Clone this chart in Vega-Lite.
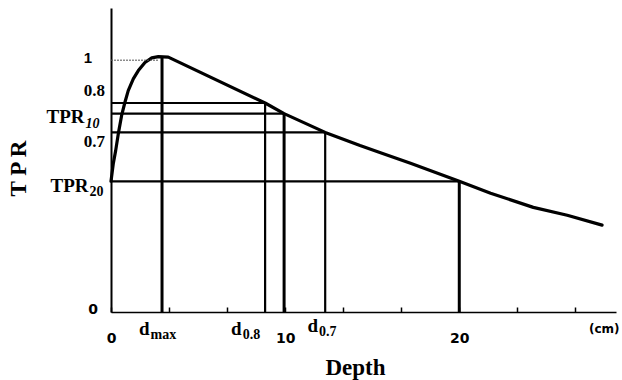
{
  "$schema": "https://vega.github.io/schema/vega-lite/v6.json",
  "width": 505,
  "height": 304,
  "autosize": {"type": "none"},
  "padding": {"left": 111, "top": 8, "right": 6, "bottom": 68},
  "background": "white",
  "config": {"view": {"stroke": null}, "axis": {"grid": false}},
  "datasets": {
    "curve": [
      {"x": 0, "y": 0.516}, {"x": 0.13, "y": 0.585}, {"x": 0.27, "y": 0.638}, {"x": 0.42, "y": 0.704},
      {"x": 0.61, "y": 0.776}, {"x": 0.8, "y": 0.828}, {"x": 0.99, "y": 0.874},
      {"x": 1.28, "y": 0.92}, {"x": 1.57, "y": 0.953}, {"x": 1.95, "y": 0.985},
      {"x": 2.34, "y": 1.003}, {"x": 2.72, "y": 1.008}, {"x": 3.29, "y": 1.006},
      {"x": 8.85, "y": 0.825}, {"x": 9.94, "y": 0.783},
      {"x": 12.3, "y": 0.709}, {"x": 14.3, "y": 0.657}, {"x": 15.6, "y": 0.626},
      {"x": 17.2, "y": 0.587}, {"x": 20, "y": 0.516}, {"x": 21.8, "y": 0.469},
      {"x": 24.25, "y": 0.413}, {"x": 26.2, "y": 0.382}, {"x": 28.2, "y": 0.343}
    ],
    "hlines": [
      {"y": 0.825, "x": 0, "x2": 8.85},
      {"y": 0.783, "x": 0, "x2": 9.94},
      {"y": 0.709, "x": 0, "x2": 12.3},
      {"y": 0.516, "x": 0, "x2": 20}
    ],
    "vlinesThick": [
      {"x": 2.93, "y": 0, "y2": 1.007},
      {"x": 9.94, "y": 0, "y2": 0.783},
      {"x": 20, "y": 0, "y2": 0.516}
    ],
    "vlinesThin": [
      {"x": 8.85, "y": 0, "y2": 0.825},
      {"x": 12.3, "y": 0, "y2": 0.709}
    ],
    "oneline": [{"y": 0.994, "x": 0, "x2": 2.7}],
    "sublabels": [
      {"x": -1.236, "y": 0.472, "main": "TPR", "sub": "20"},
      {"x": 2.27, "y": -0.0906, "main": "d", "sub": "max"},
      {"x": 7.56, "y": -0.0906, "main": "d", "sub": "0.8"},
      {"x": 11.95, "y": -0.079, "main": "d", "sub": "0.7"}
    ],
    "tpr10": [{"x": -1.466, "y": 0.748, "main": "TPR", "sub": "10"}],
    "ylabels": [
      {"x": 0, "y": 0.874, "t": "0.8"},
      {"x": 0, "y": 0.671, "t": "0.7"}
    ],
    "ylabel1": [{"x": 0, "y": 1.002, "t": "1"}],
    "ylabel0": [{"x": 0, "y": 0.008, "t": "0"}],
    "unit": [{"x": 27.45, "y": -0.067, "t": "(cm)"}]
  },
  "layer": [
    {
      "data": {"name": "curve"},
      "mark": {"type": "line", "color": "black", "strokeWidth": 3.2, "strokeJoin": "round", "strokeCap": "round"},
      "encoding": {
        "x": {
          "field": "x", "type": "quantitative",
          "scale": {"domain": [0, 29], "nice": false, "zero": false},
          "axis": {
            "values": [0, 0.8333, 1.6667, 2.5, 3.3333, 4.1667, 5, 5.8333, 6.6667, 7.5, 8.3333, 9.1667, 10, 10.8333, 11.6667, 12.5, 13.3333, 14.1667, 15, 15.8333, 16.6667, 17.5, 18.3333, 19.1667, 20, 20.8333, 21.6667, 22.5, 23.3333, 24.1667, 25, 25.8333, 26.6667, 27.5, 28.3333],
            "labelExpr": "datum.value == 0 || datum.value == 10 || datum.value == 20 ? datum.label : ''",
            "ticks": true, "tickSize": -5, "tickColor": "black", "tickWidth": 1.5, "tickOpacity": 1,
            "domainColor": "black", "domainWidth": 1.5,
            "labelFont": "DejaVu Sans", "labelFontWeight": "bold", "labelFontSize": 14, "labelColor": "black",
            "labelPadding": 24, "labelFlush": false, "labelOverlap": false,
            "title": "Depth", "titleFont": "Liberation Serif", "titleFontSize": 23, "titleFontWeight": "bold",
            "titleColor": "black", "titleX": 244, "titleY": 62, "titleBaseline": "alphabetic", "titleAlign": "center"
          }
        },
        "y": {
          "field": "y", "type": "quantitative",
          "scale": {"domain": [0, 1.2], "nice": false, "zero": false},
          "axis": {
            "ticks": false, "labels": false, "domainColor": "black", "domainWidth": 2,
            "title": "T P R", "titleFont": "Liberation Serif", "titleFontSize": 23, "titleFontWeight": "bold",
            "titleColor": "black", "titleAngle": 270, "titleX": -93, "titleY": 160,
            "titleBaseline": "middle", "titleAlign": "center"
          }
        }
      }
    },
    {
      "data": {"name": "hlines"},
      "mark": {"type": "rule", "color": "black", "strokeWidth": 2.2},
      "encoding": {
        "x": {"field": "x", "type": "quantitative"},
        "x2": {"field": "x2"},
        "y": {"field": "y", "type": "quantitative"}
      }
    },
    {
      "data": {"name": "vlinesThick"},
      "mark": {"type": "rule", "color": "black", "strokeWidth": 3},
      "encoding": {
        "x": {"field": "x", "type": "quantitative"},
        "y": {"field": "y", "type": "quantitative"},
        "y2": {"field": "y2"}
      }
    },
    {
      "data": {"name": "vlinesThin"},
      "mark": {"type": "rule", "color": "black", "strokeWidth": 2.2},
      "encoding": {
        "x": {"field": "x", "type": "quantitative"},
        "y": {"field": "y", "type": "quantitative"},
        "y2": {"field": "y2"}
      }
    },
    {
      "data": {"name": "oneline"},
      "mark": {"type": "rule", "color": "#555555", "strokeWidth": 1, "strokeDash": [2, 1]},
      "encoding": {
        "x": {"field": "x", "type": "quantitative"},
        "x2": {"field": "x2"},
        "y": {"field": "y", "type": "quantitative"}
      }
    },
    {
      "data": {"name": "sublabels"},
      "mark": {"type": "text", "align": "right", "baseline": "alphabetic", "dx": -1, "font": "Liberation Serif", "fontWeight": "bold", "fontSize": 19, "color": "black"},
      "encoding": {
        "x": {"field": "x", "type": "quantitative"},
        "y": {"field": "y", "type": "quantitative"},
        "text": {"field": "main"}
      }
    },
    {
      "data": {"name": "sublabels"},
      "mark": {"type": "text", "align": "left", "baseline": "alphabetic", "dx": 0, "dy": 4, "font": "Liberation Serif", "fontWeight": "bold", "fontSize": 14, "color": "black"},
      "encoding": {
        "x": {"field": "x", "type": "quantitative"},
        "y": {"field": "y", "type": "quantitative"},
        "text": {"field": "sub"}
      }
    },
    {
      "data": {"name": "tpr10"},
      "mark": {"type": "text", "align": "right", "baseline": "alphabetic", "dx": -1, "font": "Liberation Serif", "fontWeight": "bold", "fontSize": 19, "color": "black"},
      "encoding": {
        "x": {"field": "x", "type": "quantitative"},
        "y": {"field": "y", "type": "quantitative"},
        "text": {"field": "main"}
      }
    },
    {
      "data": {"name": "tpr10"},
      "mark": {"type": "text", "align": "left", "baseline": "alphabetic", "dx": 0, "dy": 5, "font": "Liberation Serif", "fontWeight": "bold", "fontStyle": "italic", "fontSize": 14, "color": "black"},
      "encoding": {
        "x": {"field": "x", "type": "quantitative"},
        "y": {"field": "y", "type": "quantitative"},
        "text": {"field": "sub"}
      }
    },
    {
      "data": {"name": "ylabels"},
      "mark": {"type": "text", "align": "right", "baseline": "middle", "dx": -6, "font": "Liberation Serif", "fontWeight": "bold", "fontSize": 17, "color": "black"},
      "encoding": {
        "x": {"field": "x", "type": "quantitative"},
        "y": {"field": "y", "type": "quantitative"},
        "text": {"field": "t"}
      }
    },
    {
      "data": {"name": "ylabel1"},
      "mark": {"type": "text", "align": "right", "baseline": "middle", "dx": -19, "font": "Liberation Sans", "fontWeight": "bold", "fontSize": 15, "color": "black"},
      "encoding": {
        "x": {"field": "x", "type": "quantitative"},
        "y": {"field": "y", "type": "quantitative"},
        "text": {"field": "t"}
      }
    },
    {
      "data": {"name": "ylabel0"},
      "mark": {"type": "text", "align": "right", "baseline": "middle", "dx": -13, "font": "DejaVu Sans", "fontWeight": "bold", "fontSize": 14, "color": "black"},
      "encoding": {
        "x": {"field": "x", "type": "quantitative"},
        "y": {"field": "y", "type": "quantitative"},
        "text": {"field": "t"}
      }
    },
    {
      "data": {"name": "unit"},
      "mark": {"type": "text", "align": "left", "baseline": "middle", "font": "DejaVu Sans", "fontWeight": "bold", "fontSize": 12, "color": "black"},
      "encoding": {
        "x": {"field": "x", "type": "quantitative"},
        "y": {"field": "y", "type": "quantitative"},
        "text": {"field": "t"}
      }
    }
  ]
}
